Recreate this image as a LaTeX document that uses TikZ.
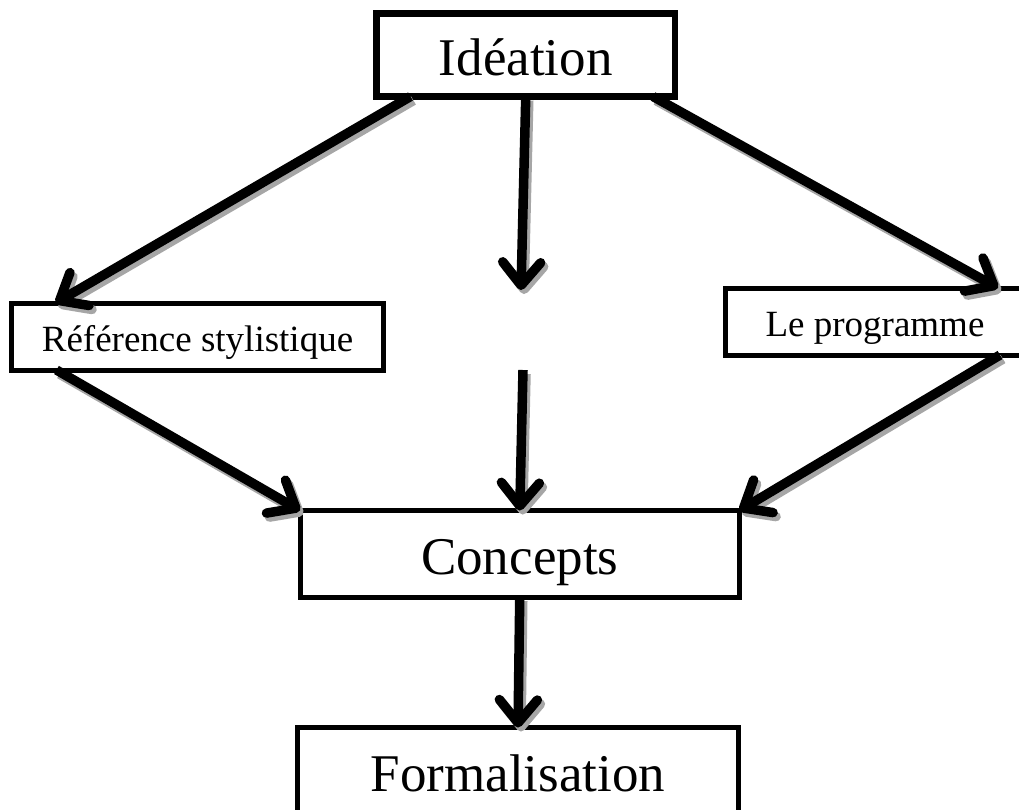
\documentclass[tikz,border=0pt]{standalone}
\usepackage{fontspec}
\setmainfont{Liberation Serif}
\usetikzlibrary{arrows.meta,calc}

\begin{document}
\begin{tikzpicture}[
  x=1pt, y=-1pt,
  box/.style={draw, line width=5pt, outer sep=0pt, inner sep=0pt, align=center, text depth=0pt},
  big/.style={box, font=\fontsize{53}{60}\selectfont, text height=41pt},
  small/.style={box, font=\fontsize{37}{42}\selectfont, text height=29pt},
  arr/.style={line width=9.5pt, -{Straight Barb[length=23pt, width=38pt, round]}},
  arrshade/.style={arr, draw=black!35, transform canvas={xshift=3pt, yshift=-4pt}}
]
\useasboundingbox (0,0) rectangle (1019,809);

\node[big, line width=6.5pt, minimum width=298.5pt, minimum height=83pt] (ide) at (525.75,55) {Idéation};
\node[small, minimum width=372pt, minimum height=67pt] (ref) at (197.5,336.5) {Référence stylistique};
\node[small, minimum width=300pt, minimum height=67pt] (prog) at (875,321.5) {Le programme};
\node[big, minimum width=439.5pt, minimum height=86.5pt] (con) at (519.75,553.75) {Concepts};
\node[big, minimum width=441pt, minimum height=86pt] (form) at (518,770.5) {Formalisation};

% ends of the arrows
\coordinate (ide-l) at ([xshift=34pt]ide.south west);
\coordinate (ide-r) at ([xshift=-22pt]ide.south east);
\coordinate (ref-t) at ([xshift=44pt]ref.north west);
\coordinate (ref-b) at ([xshift=45pt]ref.south west);
\coordinate (prog-t) at ([xshift=273pt]prog.north west);
\coordinate (prog-b) at ([xshift=275pt]prog.south west);
\coordinate (gapt) at (521,290);
\coordinate (gapb) at (523,370);

\foreach \from/\to in {ide-l/ref-t, ide.south/gapt, ide-r/prog-t, ref-b/con.north west,
    gapb/con.north, prog-b/con.north east, con.south/form.north} {
  \draw[arrshade] (\from) -- (\to);
  \draw[arr] (\from) -- (\to);
}
\end{tikzpicture}
\end{document}
